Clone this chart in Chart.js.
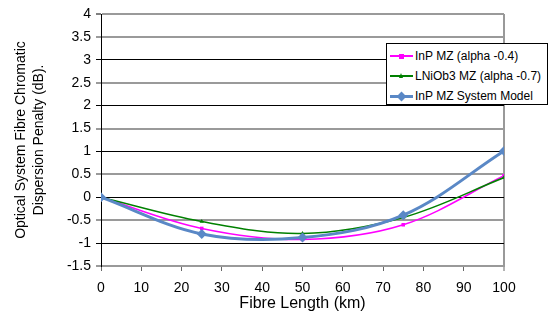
<!DOCTYPE html>
<html>
<head>
<meta charset="utf-8">
<script src="https://cdn.jsdelivr.net/npm/chart.js@4/dist/chart.umd.min.js"></script>
<style>
  html, body { margin: 0; padding: 0; background: #fff; }
  #wrap { position: relative; width: 550px; height: 325px; }
  #legend { position: absolute; left: 386px; top: 43px; width: 162px; height: 62px; border: 1px solid #000; background: #fff;
            font-family: "Liberation Sans", Arial, sans-serif; font-size: 12px; color: #000; box-sizing: border-box; padding-top: 2px; }
  .row { position: relative; height: 20px; white-space: nowrap; }
  .sym { position: absolute; left: 3px; top: 10px; width: 23px; }
  .txt { position: absolute; left: 28px; top: 3px; }
</style>
</head>
<body>
<div id="wrap">
  <canvas id="c" width="550" height="325"></canvas>
  <div id="legend"></div>
</div>
<script>
const distances = [0, 25, 50, 75, 100];
const seriesNames = ["InP MZ (alpha -0.4)", "LNiOb3 MZ (alpha -0.7)", "InP MZ System Model"];
const inpMz = [0, -0.68, -0.92, -0.60, 0.47];
const lniob3Mz = [0, -0.53, -0.79, -0.44, 0.43];
const systemModel = [0, -0.80, -0.88, -0.39, 1.01];
const xTicks = [0, 10, 20, 30, 40, 50, 60, 70, 80, 90, 100];
const yTicks = [-1.5, -1, -0.5, 0, 0.5, 1, 1.5, 2, 2.5, 3, 3.5, 4];

const styles = [
  { color: "#FF00FF", width: 1.5, point: "rect", radius: 2.5 },
  { color: "#008000", width: 1.5, point: "triangle", radius: 2.5 },
  { color: "#5A88C6", width: 3, point: "rectRot", radius: 5 }
];
const values = [inpMz, lniob3Mz, systemModel];

const datasets = values.map((vals, i) => ({
  label: seriesNames[i],
  data: distances.map((d, j) => ({ x: d, y: vals[j] })),
  borderColor: styles[i].color,
  backgroundColor: styles[i].color,
  borderWidth: styles[i].width,
  pointStyle: styles[i].point,
  pointRadius: styles[i].radius,
  pointBorderWidth: 0,
  pointHoverRadius: styles[i].radius,
  tension: 0.35,
  order: 2 - i
}));

const FONT = '"Liberation Sans", Arial, sans-serif';
const isHalf = (ctx) => !(ctx.tick && Number.isInteger(ctx.tick.value));

new Chart(document.getElementById("c"), {
  type: "line",
  data: { datasets },
  options: {
    responsive: false,
    animation: false,
    events: [],
    layout: { padding: { top: 14, right: 46, left: 0, bottom: 0 } },
    plugins: { legend: { display: false }, tooltip: { enabled: false } },
    scales: {
      x: {
        type: "linear",
        min: 0, max: 100,
        afterBuildTicks: (s) => { s.ticks = xTicks.map(v => ({ value: v })); },
        afterFit: (s) => { s.height = 59; },
        ticks: { font: { family: FONT, size: 14 }, color: "#000", padding: 9, maxRotation: 0, autoSkip: false },
        grid: {
          drawOnChartArea: true,
          color: (ctx) => (ctx.tick && ctx.tick.value === 100 ? "#999" : "rgba(0,0,0,0)"),
          lineWidth: (ctx) => (ctx.tick && ctx.tick.value === 100 ? 2 : 1),
          tickColor: "#666",
          tickWidth: 1,
          tickLength: 5
        },
        border: { color: "#999", width: 2 },
        title: { display: true, text: "Fibre Length (km)", font: { family: FONT, size: 16 }, color: "#000", padding: { top: 0, bottom: 12 } }
      },
      y: {
        type: "linear",
        min: -1.5, max: 4,
        afterBuildTicks: (s) => { s.ticks = yTicks.map(v => ({ value: v })); },
        afterFit: (s) => { s.width = 101; },
        ticks: { font: { family: FONT, size: 14 }, color: "#000", padding: 5, autoSkip: false,
                 callback: (v) => String(v) },
        grid: {
          color: (ctx) => (isHalf(ctx) || ctx.tick.value === 4 ? "#9a9a9a" : "#000"),
          lineWidth: (ctx) => (isHalf(ctx) || ctx.tick.value === 4 ? 2 : 1),
          tickColor: (ctx) => (isHalf(ctx) ? "#9a9a9a" : "#000"),
          tickWidth: (ctx) => (isHalf(ctx) ? 2 : 1),
          tickLength: 5
        },
        border: { color: "#000", width: 1 },
        title: { display: true, text: ["Optical System Fibre Chromatic", "Dispersion Penalty (dB)."],
                 font: { family: FONT, size: 14, lineHeight: 1.3 }, color: "#000", padding: { top: 12, bottom: 0 } }
      }
    }
  }
});

// HTML legend built from the series names and styles
const legend = document.getElementById("legend");
seriesNames.forEach((name, i) => {
  const st = styles[i];
  const row = document.createElement("div");
  row.className = "row";
  const sym = document.createElement("div");
  sym.className = "sym";
  const line = document.createElement("div");
  line.style.cssText = `position:absolute;left:0;top:${-st.width/2}px;width:23px;height:${st.width}px;background:${st.color};`;
  sym.appendChild(line);
  const mk = document.createElement("div");
  if (st.point === "rect") {
    mk.style.cssText = `position:absolute;left:9px;top:-2.5px;width:5px;height:5px;background:${st.color};`;
  } else if (st.point === "triangle") {
    mk.style.cssText = `position:absolute;left:9px;top:-3.5px;width:0;height:0;border-left:2.5px solid transparent;border-right:2.5px solid transparent;border-bottom:5px solid ${st.color};`;
  } else {
    mk.style.cssText = `position:absolute;left:8px;top:-3.5px;width:7px;height:7px;background:${st.color};transform:rotate(45deg);`;
  }
  sym.appendChild(mk);
  const txt = document.createElement("div");
  txt.className = "txt";
  txt.textContent = name;
  row.appendChild(sym);
  row.appendChild(txt);
  legend.appendChild(row);
});
</script>
</body>
</html>
